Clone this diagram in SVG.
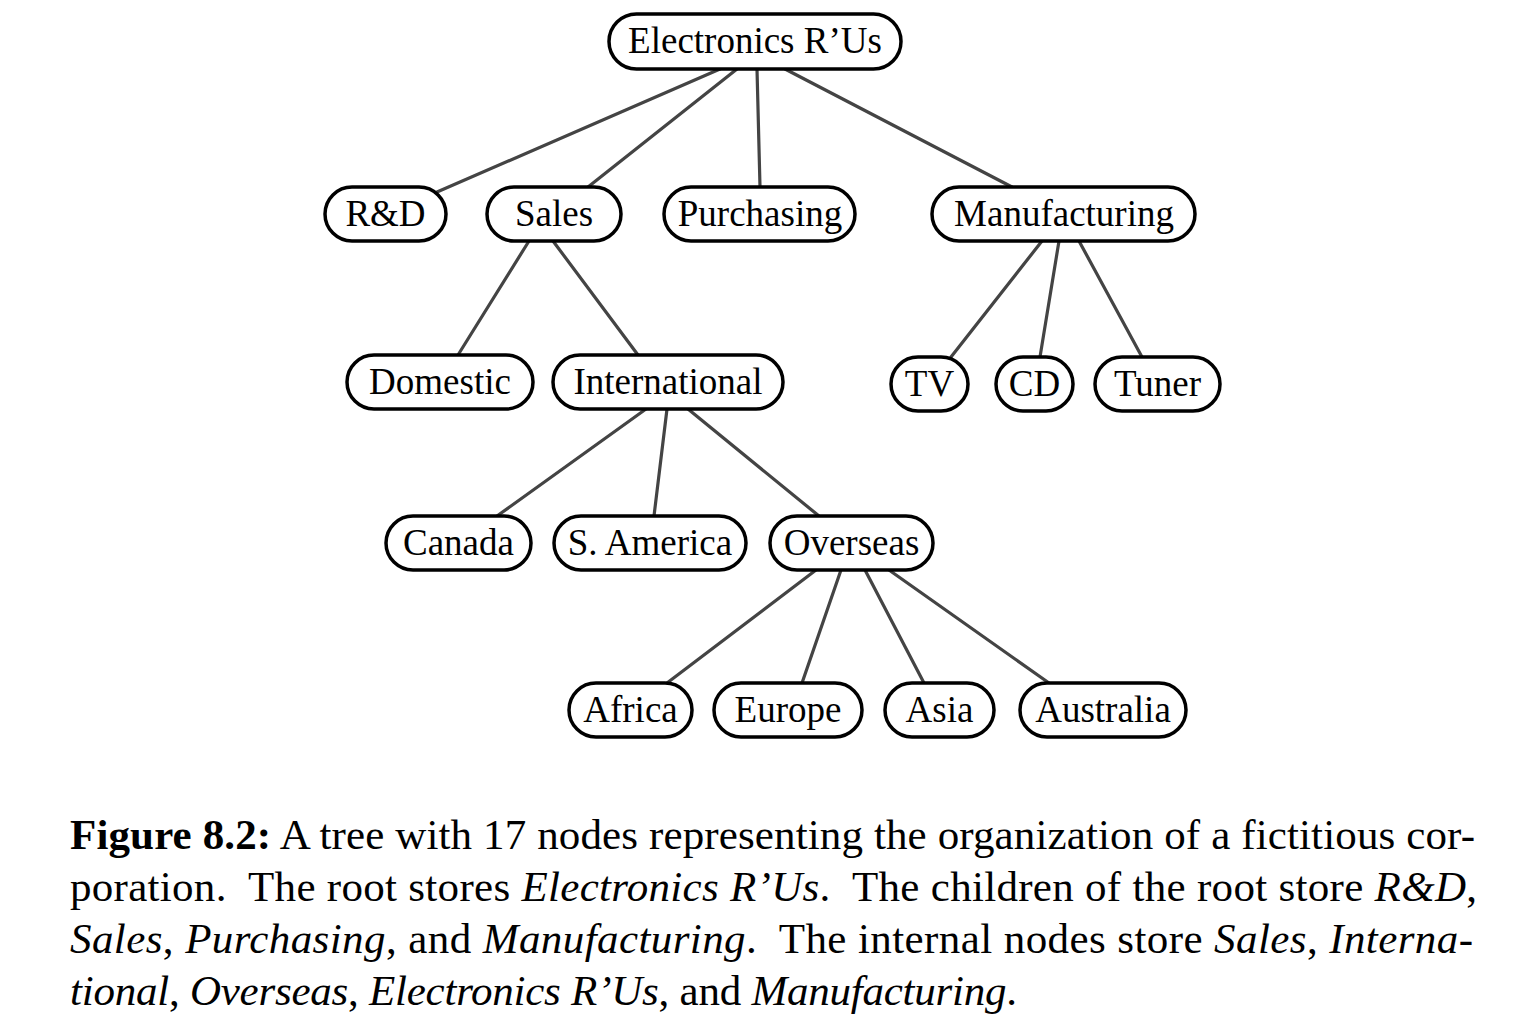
<svg xmlns="http://www.w3.org/2000/svg" width="1535" height="1019" viewBox="0 0 1535 1019">
<style>
.n rect{fill:#fff;stroke:#000;stroke-width:3.5}
.n text{font-family:"Liberation Serif","Times New Roman",serif;font-size:37px;text-anchor:middle;fill:#000}
#edges line{stroke:#444;stroke-width:3.2;stroke-linecap:round}
.cap{font-family:"Liberation Serif","Times New Roman",serif;font-size:43px;fill:#000}
.b{font-weight:bold}
.i{font-style:italic}
</style>
<rect width="1535" height="1019" fill="#fff"/>
<g id="edges">
<line x1="720" y1="69" x2="437" y2="192"/>
<line x1="737" y1="69" x2="588" y2="187"/>
<line x1="757" y1="69" x2="760" y2="187"/>
<line x1="785" y1="69" x2="1012" y2="187"/>
<line x1="529" y1="241" x2="458" y2="355"/>
<line x1="553" y1="241" x2="638" y2="355"/>
<line x1="1042" y1="241" x2="951" y2="357"/>
<line x1="1059" y1="241" x2="1040" y2="357"/>
<line x1="1079" y1="241" x2="1142" y2="357"/>
<line x1="646" y1="409" x2="497" y2="516"/>
<line x1="667" y1="409" x2="654" y2="516"/>
<line x1="688" y1="409" x2="819" y2="516"/>
<line x1="816" y1="570" x2="667" y2="683"/>
<line x1="841" y1="570" x2="802" y2="683"/>
<line x1="865" y1="570" x2="924" y2="683"/>
<line x1="889" y1="570" x2="1049" y2="683"/>
</g>
<g id="n-root" class="n"><rect x="609" y="14" width="292" height="55" rx="27.5"/><text x="755" y="53">Electronics R’Us</text></g>
<g id="n-rd" class="n"><rect x="325" y="187" width="121" height="54" rx="27"/><text x="385.5" y="226">R&amp;D</text></g>
<g id="n-sales" class="n"><rect x="487" y="187" width="134" height="54" rx="27"/><text x="554" y="226">Sales</text></g>
<g id="n-purchasing" class="n"><rect x="664" y="187" width="191" height="54" rx="27"/><text x="760" y="226">Purchasing</text></g>
<g id="n-manufacturing" class="n"><rect x="932" y="187" width="263" height="54" rx="27"/><text x="1064" y="226">Manufacturing</text></g>
<g id="n-domestic" class="n"><rect x="347" y="355" width="186" height="54" rx="27"/><text x="440" y="394">Domestic</text></g>
<g id="n-international" class="n"><rect x="553" y="355" width="230" height="54" rx="27"/><text x="668" y="394">International</text></g>
<g id="n-tv" class="n"><rect x="891" y="357" width="77" height="54" rx="27"/><text x="929.5" y="396">TV</text></g>
<g id="n-cd" class="n"><rect x="996" y="357" width="77" height="54" rx="27"/><text x="1034.5" y="396">CD</text></g>
<g id="n-tuner" class="n"><rect x="1095" y="357" width="125" height="54" rx="27"/><text x="1157.5" y="396">Tuner</text></g>
<g id="n-canada" class="n"><rect x="386" y="516" width="145" height="54" rx="27"/><text x="458.5" y="555">Canada</text></g>
<g id="n-samerica" class="n"><rect x="554" y="516" width="192" height="54" rx="27"/><text x="650" y="555">S. America</text></g>
<g id="n-overseas" class="n"><rect x="770" y="516" width="163" height="54" rx="27"/><text x="851.5" y="555">Overseas</text></g>
<g id="n-africa" class="n"><rect x="569" y="683" width="123" height="54" rx="27"/><text x="630.5" y="722">Africa</text></g>
<g id="n-europe" class="n"><rect x="714" y="683" width="148" height="54" rx="27"/><text x="788" y="722">Europe</text></g>
<g id="n-asia" class="n"><rect x="885" y="683" width="109" height="54" rx="27"/><text x="939.5" y="722">Asia</text></g>
<g id="n-australia" class="n"><rect x="1020" y="683" width="166" height="54" rx="27"/><text x="1103" y="722">Australia</text></g>
<g id="caption">
<text class="cap" x="70" y="849" textLength="1405" lengthAdjust="spacing"><tspan class="b">Figure 8.2:</tspan> A tree with 17 nodes representing the organization of a fictitious cor-</text>
<text class="cap" x="70" y="901" textLength="1407" lengthAdjust="spacing" xml:space="preserve">poration.  The root stores <tspan class="i">Electronics R’Us</tspan>.  The children of the root store <tspan class="i">R&amp;D</tspan>,</text>
<text class="cap" x="70" y="953" textLength="1403" lengthAdjust="spacing" xml:space="preserve"><tspan class="i">Sales</tspan>, <tspan class="i">Purchasing</tspan>, and <tspan class="i">Manufacturing</tspan>.  The internal nodes store <tspan class="i">Sales</tspan>, <tspan class="i">Interna-</tspan></text>
<text class="cap" x="70" y="1005" textLength="947" lengthAdjust="spacing"><tspan class="i">tional</tspan>, <tspan class="i">Overseas</tspan>, <tspan class="i">Electronics R’Us</tspan>, and <tspan class="i">Manufacturing</tspan>.</text>
</g>
</svg>
